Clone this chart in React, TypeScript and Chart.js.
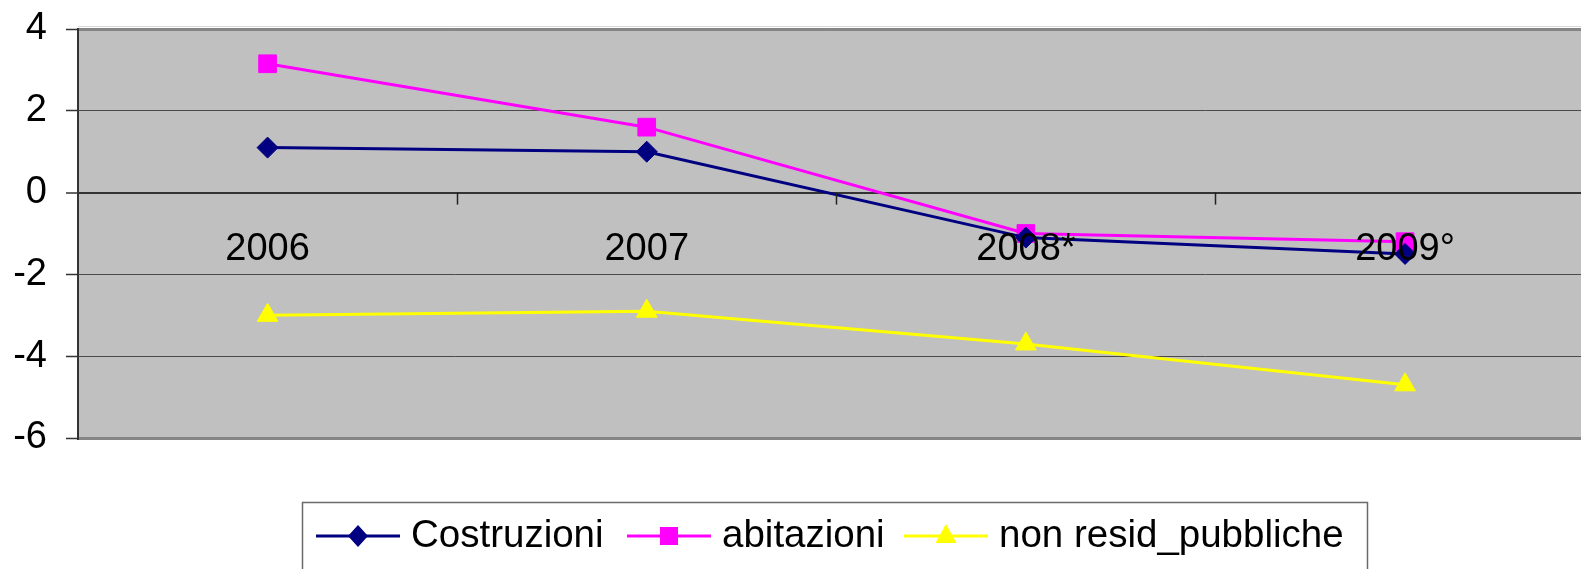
import React, { useEffect, useRef } from 'react';
import { Chart, registerables } from 'chart.js';
Chart.register(...registerables);

const categories = ['2006', '2007', '2008*', '2009°'];
const costruzioni = [1.1, 1.0, -1.1, -1.5];
const abitazioni = [3.15, 1.6, -1.0, -1.2];
const nonResidPubbliche = [-3.0, -2.9, -3.7, -4.7];
const seriesNames = ['Costruzioni', 'abitazioni', 'non resid_pubbliche'];
const seriesColors = ['#000080', '#FF00FF', '#FFFF00'];
const yMin = -6;
const yMax = 4;
const yStep = 2;

const FONT = "'Liberation Sans', Arial, sans-serif";
const W = 1581;
const H = 569;

function drawMarker(ctx: CanvasRenderingContext2D, kind: number, x: number, y: number, color: string) {
  ctx.save();
  ctx.fillStyle = color;
  ctx.beginPath();
  if (kind === 0) {
    ctx.moveTo(x, y - 11);
    ctx.lineTo(x + 10, y);
    ctx.lineTo(x, y + 11);
    ctx.lineTo(x - 10, y);
  } else if (kind === 1) {
    ctx.rect(x - 9, y - 9, 18, 18);
  } else {
    ctx.moveTo(x, y - 12);
    ctx.lineTo(x + 10.5, y + 7);
    ctx.lineTo(x - 10.5, y + 7);
  }
  ctx.closePath();
  ctx.fill();
  ctx.restore();
}

const decorPlugin = {
  id: 'decor',
  beforeDraw(chart: any) {
    const { ctx, chartArea } = chart;
    ctx.save();
    ctx.fillStyle = '#fff';
    ctx.fillRect(0, 0, chart.width, chart.height);
    ctx.fillStyle = '#C0C0C0';
    ctx.fillRect(chartArea.left, chartArea.top, chartArea.right - chartArea.left, chartArea.bottom - chartArea.top);
    ctx.strokeStyle = '#d8d8d8';
    ctx.lineWidth = 1;
    ctx.beginPath();
    ctx.moveTo(chartArea.left, chartArea.top - 2.5);
    ctx.lineTo(chartArea.right, chartArea.top - 2.5);
    ctx.stroke();
    ctx.restore();
  },
  afterDatasetsDraw(chart: any) {
    const { ctx } = chart;
    const xs = chart.scales.x;
    const ys = chart.scales.y;
    const zeroY = ys.getPixelForValue(0);
    ctx.save();
    // tick marks on the category axis (at category boundaries)
    ctx.strokeStyle = '#222';
    ctx.lineWidth = 1.5;
    for (let i = 0; i < categories.length - 1; i++) {
      const px = Math.round(xs.getPixelForValue(i + 0.5)) + 0.5;
      ctx.beginPath();
      ctx.moveTo(px, zeroY);
      ctx.lineTo(px, zeroY + 12);
      ctx.stroke();
    }
    // category labels
    ctx.fillStyle = '#000';
    ctx.font = `38px ${FONT}`;
    ctx.textAlign = 'center';
    ctx.textBaseline = 'alphabetic';
    categories.forEach((c, i) => {
      ctx.fillText(c, xs.getPixelForValue(i), zeroY + 67);
    });

    // legend
    const boxL = 302, boxT = 502, boxR = 1367, boxB = H + 5;
    ctx.strokeStyle = '#6a6a6a';
    ctx.lineWidth = 1.5;
    ctx.strokeRect(boxL + 0.5, boxT + 0.5, boxR - boxL, boxB - boxT);
    const lineStarts = [316, 627, 904];
    const lineLen = 84;
    const lineY = 536;
    ctx.font = `38.5px ${FONT}`;
    ctx.textAlign = 'left';
    seriesNames.forEach((name, i) => {
      const x0 = lineStarts[i];
      ctx.strokeStyle = seriesColors[i];
      ctx.lineWidth = 3;
      ctx.beginPath();
      ctx.moveTo(x0, lineY);
      ctx.lineTo(x0 + lineLen, lineY);
      ctx.stroke();
      drawMarker(ctx, i, x0 + lineLen / 2, lineY, seriesColors[i]);
      ctx.fillStyle = '#000';
      ctx.fillText(name, x0 + lineLen + 11, 547);
    });
    ctx.restore();
  },
};

export default function App() {
  const ref = useRef<HTMLCanvasElement>(null);

  useEffect(() => {
    if (!ref.current) return;
    const toPts = (arr: number[]) => arr.map((y, i) => ({ x: i, y }));
    const chart = new Chart(ref.current, {
      type: 'line',
      data: {
        datasets: [
          {
            label: seriesNames[0],
            data: toPts(costruzioni),
            borderColor: seriesColors[0],
            backgroundColor: seriesColors[0],
            borderWidth: 3,
            pointStyle: 'rectRot',
            pointRadius: 10.5,
            pointBorderWidth: 1,
            tension: 0,
            clip: false,
          },
          {
            label: seriesNames[1],
            data: toPts(abitazioni),
            borderColor: seriesColors[1],
            backgroundColor: seriesColors[1],
            borderWidth: 3,
            pointStyle: 'rect',
            pointRadius: 12.5,
            pointBorderWidth: 1,
            tension: 0,
            clip: false,
          },
          {
            label: seriesNames[2],
            data: toPts(nonResidPubbliche),
            borderColor: seriesColors[2],
            backgroundColor: seriesColors[2],
            borderWidth: 3,
            pointStyle: 'triangle',
            pointRadius: 12,
            pointBorderWidth: 1,
            tension: 0,
            clip: false,
          },
        ],
      },
      options: {
        responsive: false,
        animation: false,
        devicePixelRatio: 1,
        layout: { autoPadding: false, padding: { left: 0, right: 0, top: 29, bottom: 131 } },
        plugins: { legend: { display: false }, tooltip: { enabled: false } },
        scales: {
          x: {
            type: 'linear',
            display: false,
            min: -0.5,
            max: 3.464,
          },
          y: {
            min: yMin,
            max: yMax,
            afterFit: (scale: any) => {
              scale.width = 78;
              scale.paddingTop = 0;
              scale.paddingBottom = 0;
            },
            ticks: {
              stepSize: yStep,
              color: '#000',
              padding: 19,
              font: { family: FONT, size: 38 },
            },
            grid: {
              color: (c: any) => {
                const v = c.tick?.value;
                if (v === yMax || v === yMin) return '#858585';
                if (v === 0) return '#333';
                return '#4a4a4a';
              },
              lineWidth: (c: any) => {
                const v = c.tick?.value;
                if (v === yMax || v === yMin) return 3;
                if (v === 0) return 2;
                return 1;
              },
              tickLength: 12,
              tickColor: '#333',
              tickWidth: 1.5,
            },
            border: { display: true, color: '#333', width: 2 },
          },
        },
      },
      plugins: [decorPlugin],
    });
    return () => chart.destroy();
  }, []);

  return (
    <div style={{ position: 'absolute', left: 0, top: 0, width: W, height: H, overflow: 'hidden', background: '#fff' }}>
      <canvas ref={ref} width={W} height={H} style={{ display: 'block' }} />
    </div>
  );
}
